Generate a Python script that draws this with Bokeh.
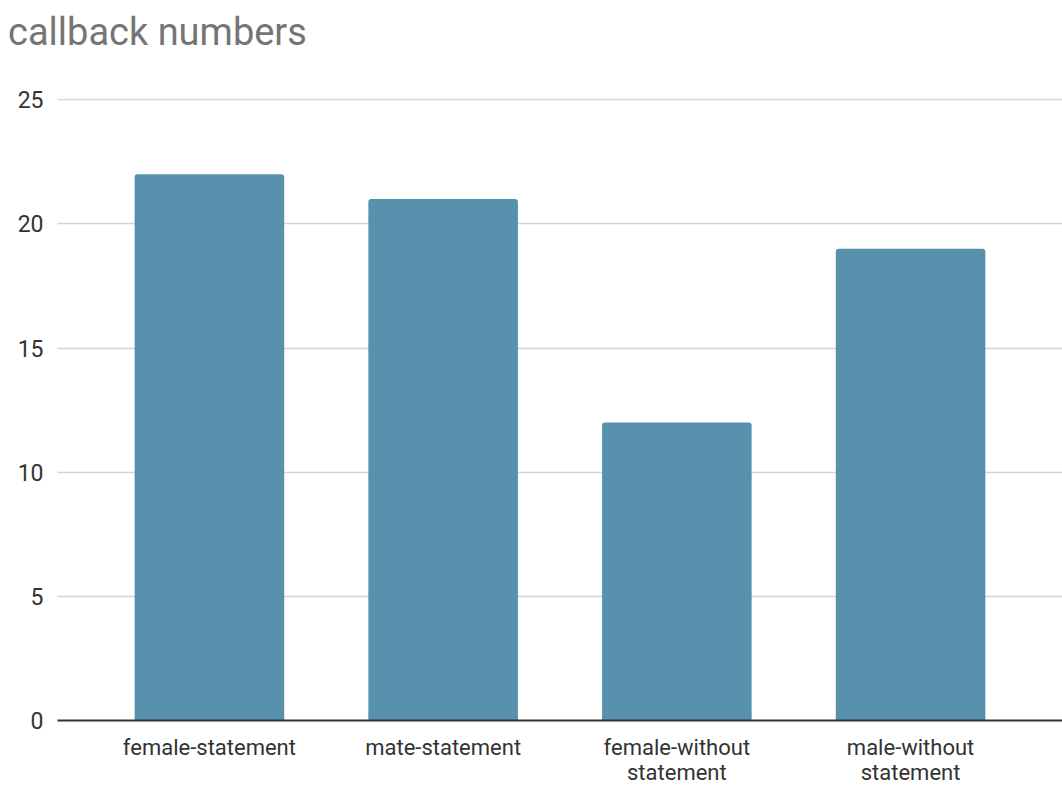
from bokeh.plotting import figure
from bokeh.models import ColumnDataSource, FactorRange, Range1d, FixedTicker, Div
from bokeh.layouts import column
from bokeh.embed import file_html
from bokeh.resources import INLINE

title_text = "callback numbers"
categories = ["female-statement", "mate-statement", "female-without\nstatement", "male-without\nstatement"]
callbacks = [22, 21, 12, 19]
y_ticks = [0, 5, 10, 15, 20, 25]

src = ColumnDataSource(data=dict(cat=categories, val=callbacks))

title_div = Div(
    text=title_text, width=1062, height=60, margin=0,
    styles={"font-family": "Roboto", "font-size": "38px", "color": "#757575",
            "line-height": "38px", "padding-top": "13px", "padding-left": "8px",
            "white-space": "nowrap"},
)

p = figure(
    x_range=FactorRange(*categories, range_padding=0.15, range_padding_units="absolute"),
    y_range=Range1d(0, 25.05),
    width=1062, height=727,
    output_backend="svg", toolbar_location=None,
    min_border_left=57, min_border_right=0, min_border_bottom=60, min_border_top=38,
    margin=0,
)

p.vbar(x="cat", top="val", width=0.64, source=src, color="#5891ae", line_color=None,
       border_radius=(3, 3, 0, 0))

p.outline_line_color = None
p.xgrid.grid_line_color = None
p.ygrid.ticker = FixedTicker(ticks=y_ticks)
p.ygrid.grid_line_color = "#d4d4d4"
p.ygrid.grid_line_width = 1.5

p.yaxis.ticker = FixedTicker(ticks=y_ticks)
p.yaxis.axis_line_color = None
p.yaxis.major_tick_line_color = None
p.yaxis.minor_tick_line_color = None
p.yaxis.major_label_text_font = "Roboto"
p.yaxis.major_label_text_font_size = "23px"
p.yaxis.major_label_text_color = "#333333"
p.yaxis.major_label_standoff = 8

p.xaxis.axis_line_color = "#333333"
p.xaxis.axis_line_width = 2
p.xaxis.major_tick_line_color = None
p.xaxis.major_label_text_font = "Roboto"
p.xaxis.major_label_text_font_size = "22px"
p.xaxis.major_label_text_color = "#333333"
p.xaxis.major_label_standoff = 8
p.xaxis.major_label_text_line_height = 1.0

layout = column(title_div, p, spacing=0, margin=0)
open("out.html", "w").write(file_html(layout, INLINE))
